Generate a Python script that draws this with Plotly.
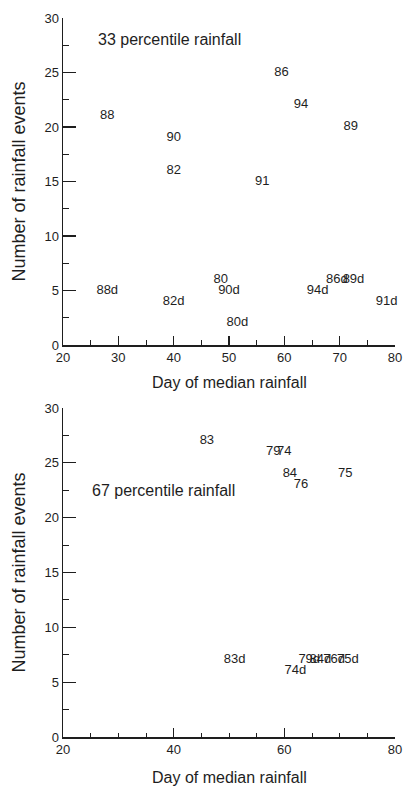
import plotly.graph_objects as go

# ---- data: 33 percentile rainfall (top panel) ----
top_labels = ["88", "90", "82", "86", "94", "89", "91",
              "88d", "82d", "80", "90d", "80d", "94d", "86d", "89d", "91d"]
top_day = [28, 40, 40, 59.5, 63, 72, 56,
           28, 40, 48.5, 50, 51.5, 66, 69.5, 72.5, 78.5]
top_events = [21, 19, 16, 25, 22, 20, 15,
              5, 4, 6, 5, 2, 5, 6, 6, 4]

# ---- data: 67 percentile rainfall (bottom panel) ----
bot_labels = ["83", "79", "74", "84", "76", "75",
              "83d", "74d", "79d", "84d", "76d", "75d"]
bot_day = [46, 58, 60, 61, 63, 71,
           51, 62, 64.5, 66.5, 69, 71.5]
bot_events = [27, 26, 26, 24, 23, 24,
              7, 6, 7, 7, 7, 7]

top_xticks = [20, 30, 40, 50, 60, 70, 80]
bot_xticks = [20, 40, 60, 80]
yticks = [0, 5, 10, 15, 20, 25, 30]

FONT = "Liberation Sans, Arial, Helvetica, sans-serif"
INK = "#1e1e1e"

fig = go.Figure()
fig.add_trace(go.Scatter(x=top_day, y=top_events, text=top_labels, mode="text",
                         textposition="middle center", cliponaxis=False,
                         textfont=dict(family=FONT, size=13, color=INK),
                         xaxis="x", yaxis="y", showlegend=False, hoverinfo="skip"))
fig.add_trace(go.Scatter(x=bot_day, y=bot_events, text=bot_labels, mode="text",
                         textposition="middle center", cliponaxis=False,
                         textfont=dict(family=FONT, size=13, color=INK),
                         xaxis="x2", yaxis="y2", showlegend=False, hoverinfo="skip"))

xdom = [63 / 405, 395 / 405]
ydom_top = [1 - 345 / 787, 1 - 18 / 787]
ydom_bot = [1 - 737 / 787, 1 - 408 / 787]

def xaxis(dom, anchor, ticks, minor_len):
    return dict(domain=dom, anchor=anchor, range=[20, 80], tickvals=ticks,
                automargin=False,
                showline=True, linecolor=INK, linewidth=1.5, showgrid=False,
                zeroline=False, ticks="inside", ticklen=9, tickwidth=1.3,
                tickcolor=INK,
                minor=dict(dtick=5, tick0=20, ticks="inside", ticklen=minor_len,
                           tickwidth=1, tickcolor=INK, showgrid=False),
                tickfont=dict(family=FONT, size=13, color=INK), fixedrange=True)

def yaxis(dom, anchor):
    return dict(domain=dom, anchor=anchor, range=[0, 30], tickvals=yticks,
                automargin=False,
                showline=True, linecolor=INK, linewidth=1.5, showgrid=False,
                zeroline=False, ticks="inside", ticklen=13, tickwidth=1.3,
                tickcolor=INK,
                minor=dict(dtick=2.5, tick0=0, ticks="inside", ticklen=6,
                           tickwidth=1, tickcolor=INK, showgrid=False),
                tickfont=dict(family=FONT, size=13, color=INK), fixedrange=True)

fig.update_layout(
    width=405, height=787,
    margin=dict(l=0, r=0, t=0, b=0, autoexpand=False),
    paper_bgcolor="white", plot_bgcolor="white",
    xaxis=xaxis(xdom, "y", top_xticks, 5),
    yaxis=yaxis(ydom_top, "x"),
    xaxis2=xaxis(xdom, "y2", bot_xticks, 4),
    yaxis2=yaxis(ydom_bot, "x2"),
    font=dict(family=FONT, color=INK),
)

annotations = [
    dict(text="33 percentile rainfall", x=26, y=28, xref="x", yref="y",
         xanchor="left", yanchor="middle", showarrow=False,
         font=dict(family=FONT, size=16, color=INK)),
    dict(text="67 percentile rainfall", x=24.8, y=22.5, xref="x2", yref="y2",
         xanchor="left", yanchor="middle", showarrow=False,
         font=dict(family=FONT, size=16, color=INK)),
    dict(text="Day of median rainfall", x=(xdom[0] + xdom[1]) / 2, y=1 - 382 / 787,
         xref="paper", yref="paper", xanchor="center", yanchor="middle",
         showarrow=False, font=dict(family=FONT, size=16, color=INK)),
    dict(text="Day of median rainfall", x=(xdom[0] + xdom[1]) / 2, y=1 - 777 / 787,
         xref="paper", yref="paper", xanchor="center", yanchor="middle",
         showarrow=False, font=dict(family=FONT, size=16, color=INK)),
    dict(text="Number of rainfall events", x=18 / 405, y=sum(ydom_top) / 2,
         xref="paper", yref="paper", xanchor="center", yanchor="middle",
         textangle=-90, showarrow=False, font=dict(family=FONT, size=18, color=INK)),
    dict(text="Number of rainfall events", x=18 / 405, y=sum(ydom_bot) / 2,
         xref="paper", yref="paper", xanchor="center", yanchor="middle",
         textangle=-90, showarrow=False, font=dict(family=FONT, size=18, color=INK)),
]
fig.update_layout(annotations=annotations)

fig.write_html("out.html",
               config={"displayModeBar": False, "staticPlot": True},
               post_script="document.body.style.margin='0px';"
                           "document.body.style.overflow='hidden';")
